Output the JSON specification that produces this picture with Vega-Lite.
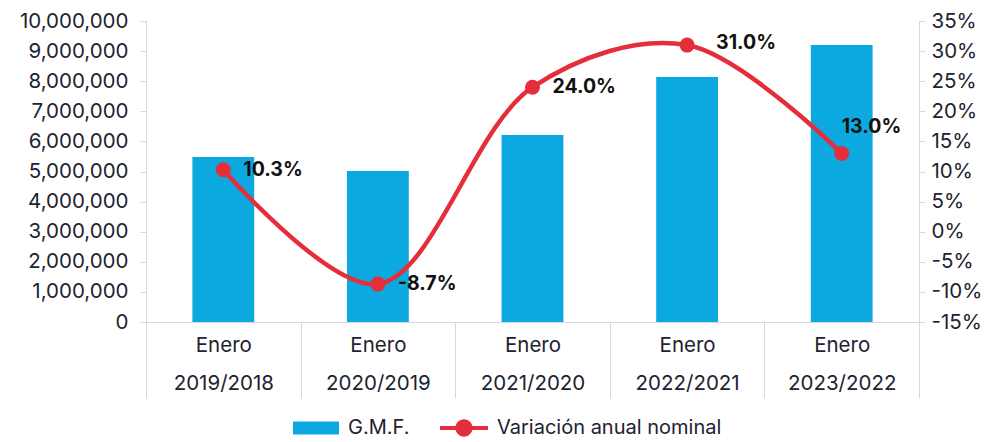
{
  "$schema": "https://vega.github.io/schema/vega-lite/v6.json",
  "width": 773,
  "height": 301,
  "autosize": {"type": "none"},
  "padding": {"left": 146, "top": 21, "right": 73, "bottom": 120},
  "config": {
    "view": {"stroke": null},
    "font": "Inter",
    "locale": {"number": {"decimal": ".", "thousands": ",", "grouping": [3], "currency": ["$", ""], "minus": "-"}},
    "axis": {"labelFont": "Inter", "labelFontSize": 20.5, "labelColor": "#222230", "domainColor": "#d9d9d9", "tickColor": "#d9d9d9", "grid": false, "title": null},
    "legend": {"labelFont": "Inter", "labelFontSize": 20, "labelColor": "#222230", "padding": 0, "title": null, "labelOffset": 9, "labelLimit": 400}
  },
  "data": {
    "values": [
      {"periodo": "Enero 2019/2018", "gmf": 5480000, "var": 0.103},
      {"periodo": "Enero 2020/2019", "gmf": 5020000, "var": -0.087},
      {"periodo": "Enero 2021/2020", "gmf": 6210000, "var": 0.24},
      {"periodo": "Enero 2022/2021", "gmf": 8140000, "var": 0.31},
      {"periodo": "Enero 2023/2022", "gmf": 9200000, "var": 0.13}
    ]
  },
  "encoding": {
    "x": {
      "field": "periodo",
      "type": "nominal",
      "sort": null,
      "scale": {"paddingInner": 0, "paddingOuter": 0},
      "axis": {"labelAngle": 0, "labelExpr": "split(datum.label, ' ')", "labelLineHeight": 38, "tickBand": "extent", "tickSize": 76, "labelPadding": -63, "labelBaseline": "top"}
    }
  },
  "layer": [
    {
      "mark": {"type": "bar", "width": {"band": 0.4}},
      "encoding": {
        "y": {
          "field": "gmf",
          "type": "quantitative",
          "scale": {"domain": [0, 10000000], "nice": false},
          "axis": {"orient": "left", "values": [0, 1000000, 2000000, 3000000, 4000000, 5000000, 6000000, 7000000, 8000000, 9000000, 10000000], "format": ",d", "tickSize": 6, "labelPadding": 12}
        },
        "fill": {
          "datum": "G.M.F.",
          "type": "nominal",
          "scale": {"range": ["#0BA9E0"]},
          "legend": {"orient": "none", "legendX": 147, "legendY": 384, "symbolType": "M-1,-0.283L1,-0.283L1,0.283L-1,0.283Z", "symbolSize": 2116, "symbolStrokeWidth": 0}
        }
      }
    },
    {
      "encoding": {
        "y": {
          "field": "var",
          "type": "quantitative",
          "scale": {"domain": [-0.15, 0.35], "nice": false},
          "axis": {"orient": "right", "values": [-0.15, -0.1, -0.05, 0, 0.05, 0.1, 0.15, 0.2, 0.25, 0.3, 0.35], "format": ".0%", "tickSize": 6, "labelPadding": 6}
        }
      },
      "layer": [
        {
          "mark": {"type": "line", "interpolate": "catmull-rom", "strokeWidth": 4.5},
          "encoding": {
            "stroke": {
              "datum": "Variación anual nominal",
              "type": "nominal",
              "scale": {"range": ["#E62E3B"]},
              "legend": {
                "orient": "none", "legendX": 294, "legendY": 383,
                "symbolType": "M-1,-0.085L1,-0.085L1,0.085L-1,0.085Z M-0.36,0A0.36,0.36 0 1,1 0.36,0A0.36,0.36 0 1,1 -0.36,0Z",
                "symbolSize": 2304,
                "encode": {"symbols": {"update": {"fill": {"value": "#E62E3B"}, "stroke": {"value": "#E62E3B"}, "strokeWidth": {"value": 0}}}}
              }
            }
          }
        },
        {
          "mark": {"type": "circle", "size": 225, "color": "#E62E3B", "opacity": 1},
          "encoding": {}
        },
        {
          "transform": [{"filter": "datum.periodo != 'Enero 2023/2022' && datum.periodo != 'Enero 2022/2021'"}],
          "mark": {"type": "text", "align": "left", "baseline": "middle", "dx": 20, "fontSize": 19.5, "fontWeight": "bold", "color": "#111111", "font": "Inter"},
          "encoding": {"text": {"field": "var", "type": "quantitative", "format": ".1%"}}
        },
        {
          "transform": [{"filter": "datum.periodo == 'Enero 2022/2021'"}],
          "mark": {"type": "text", "align": "left", "baseline": "middle", "dx": 29, "dy": -2, "fontSize": 19.5, "fontWeight": "bold", "color": "#111111", "font": "Inter"},
          "encoding": {"text": {"field": "var", "type": "quantitative", "format": ".1%"}}
        },
        {
          "transform": [{"filter": "datum.periodo == 'Enero 2023/2022'"}],
          "mark": {"type": "text", "align": "left", "baseline": "middle", "dx": 0, "dy": -26, "fontSize": 19.5, "fontWeight": "bold", "color": "#111111", "font": "Inter"},
          "encoding": {"text": {"field": "var", "type": "quantitative", "format": ".1%"}}
        }
      ]
    }
  ],
  "resolve": {"scale": {"y": "independent"}}
}
